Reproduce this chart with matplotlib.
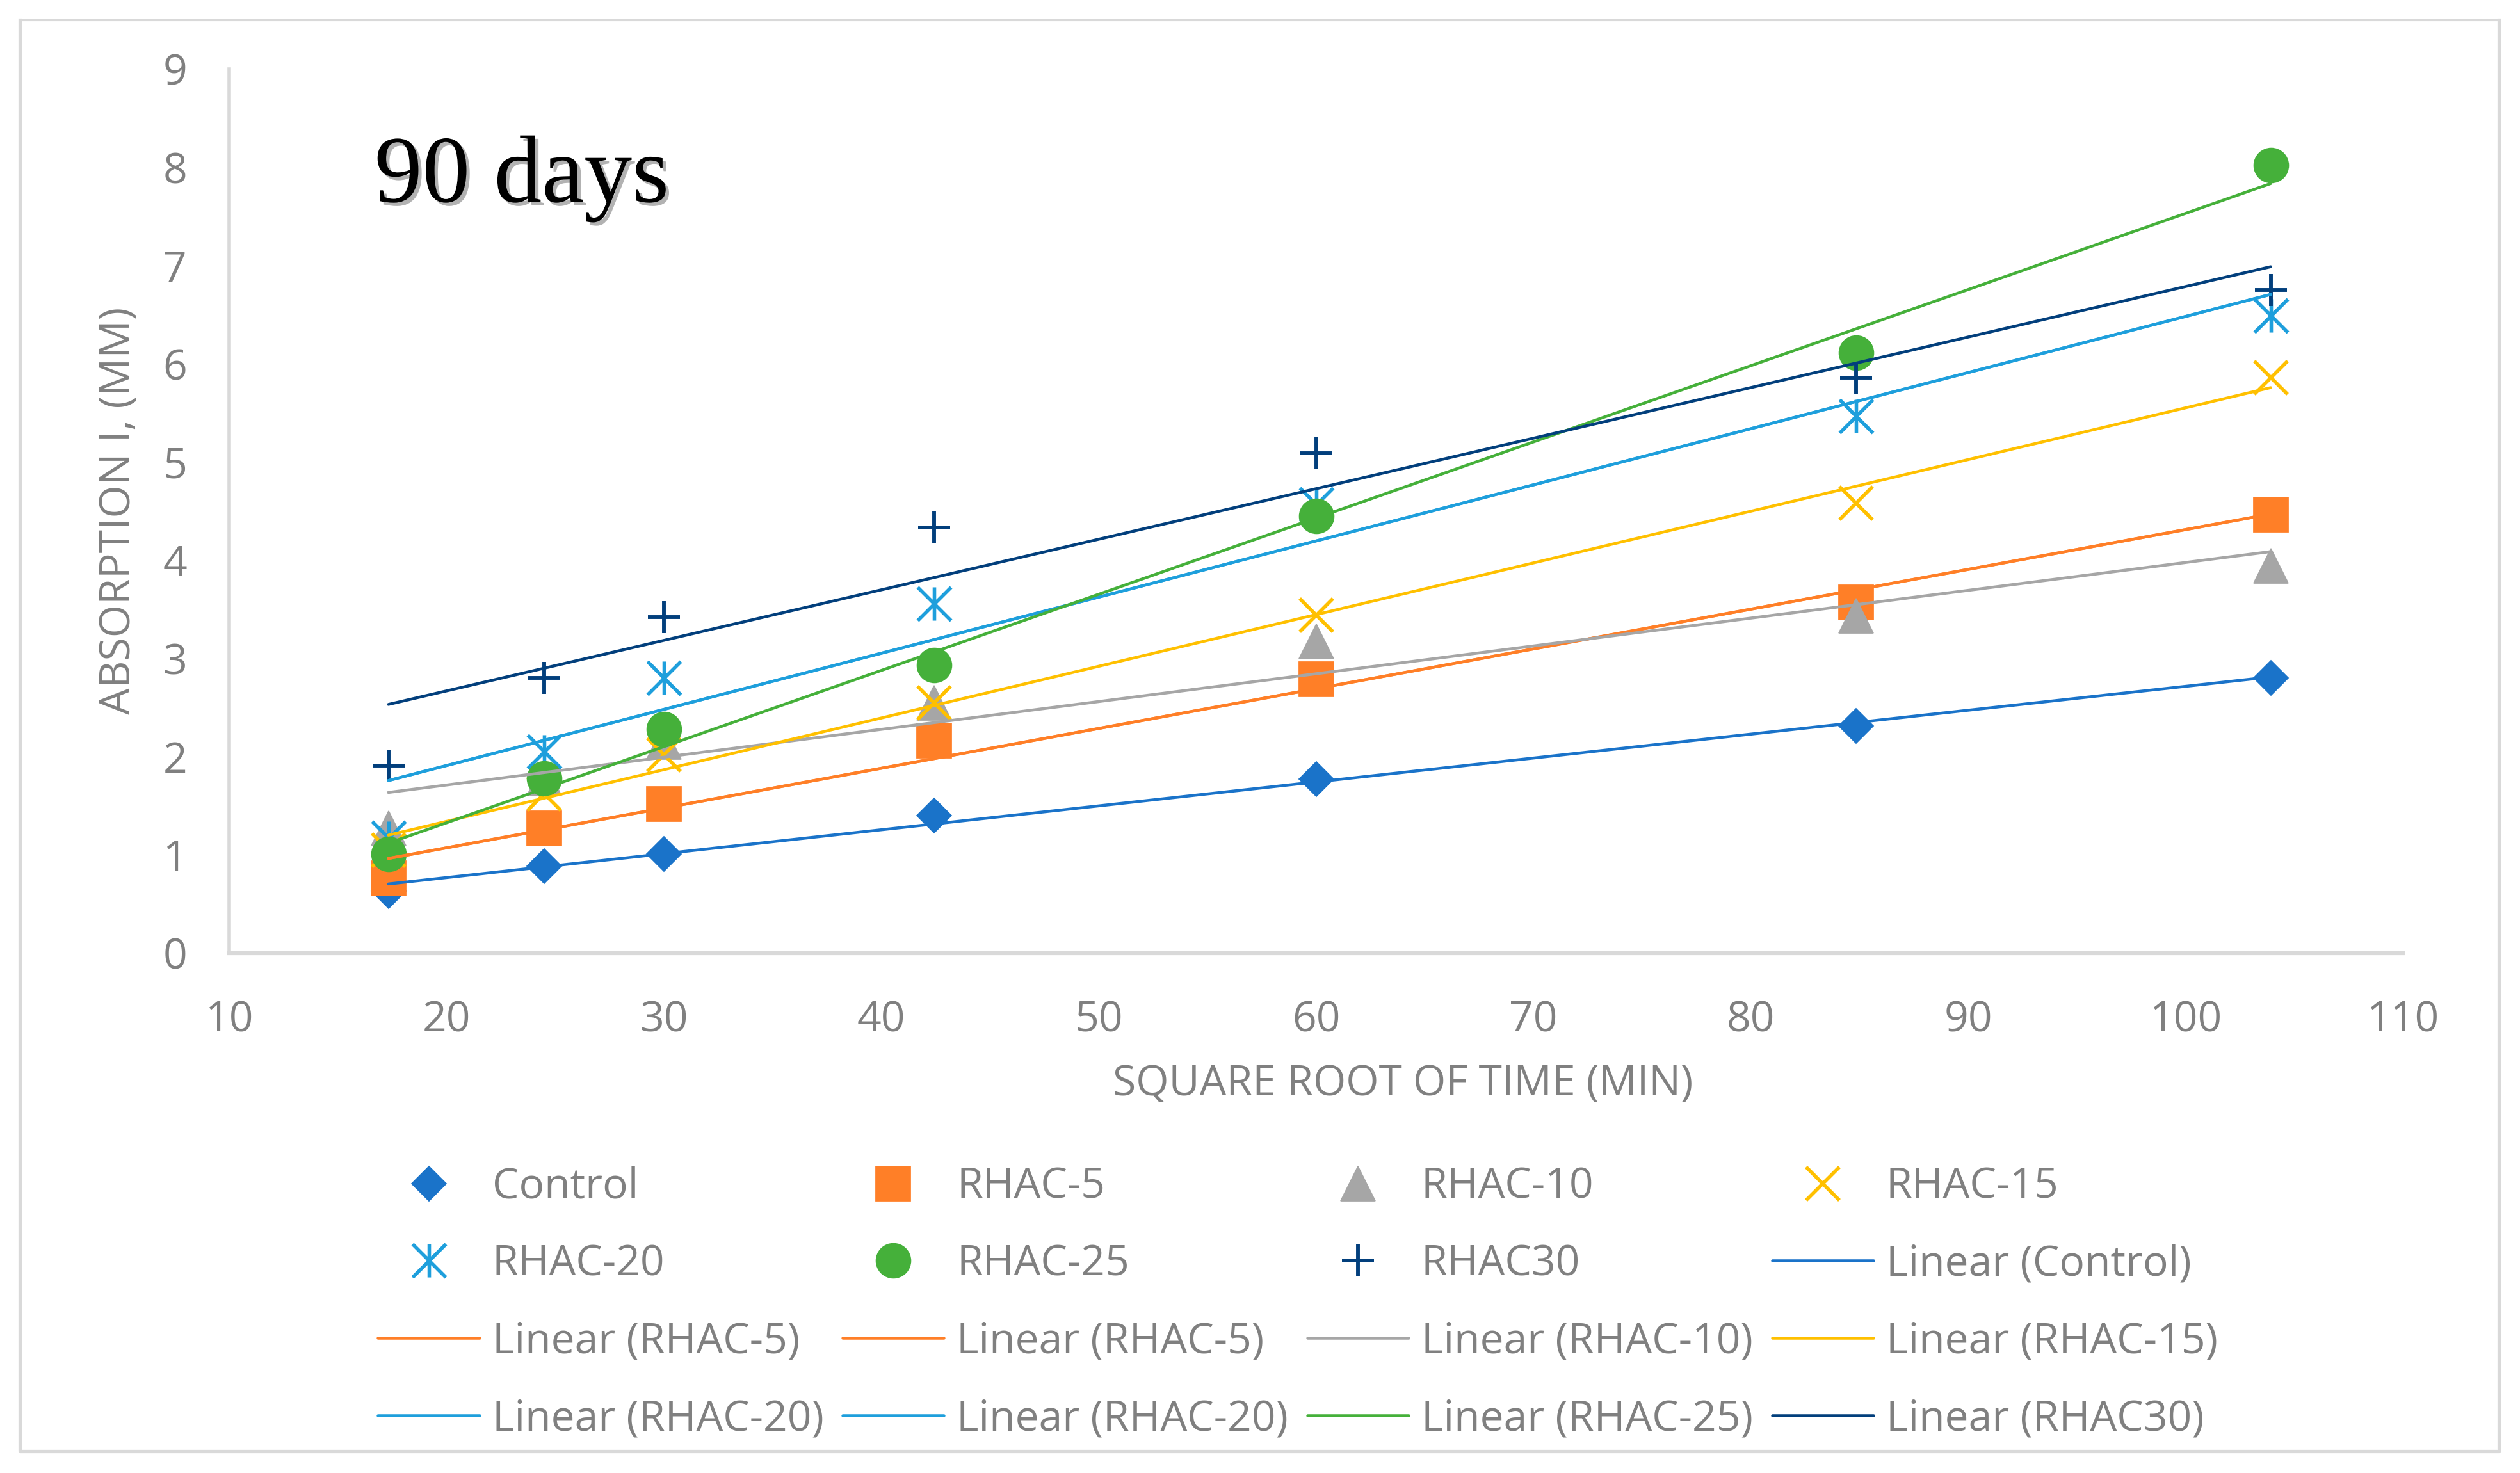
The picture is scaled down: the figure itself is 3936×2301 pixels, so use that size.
import numpy as np
import matplotlib
matplotlib.use("Agg")
import matplotlib.pyplot as plt
import matplotlib.patheffects as pe
from matplotlib.lines import Line2D
from matplotlib.path import Path

plt.rcParams['font.family'] = ['Open Sans', 'DejaVu Sans']

# square root of time (min) and absorption (mm)
sqrt_time = [17.32, 24.49, 30.0, 42.43, 60.0, 84.85, 103.92]
series_names = ['Control', 'RHAC-5', 'RHAC-10', 'RHAC-15', 'RHAC-20', 'RHAC-25', 'RHAC30']
control = [0.63, 0.885, 1.01, 1.40, 1.77, 2.31, 2.80]
rhac5 = [0.76, 1.27, 1.52, 2.16, 2.79, 3.57, 4.46]
rhac10 = [1.27, 1.78, 2.15, 2.55, 3.17, 3.43, 3.94]
rhac15 = [1.05, 1.62, 2.02, 2.55, 3.44, 4.58, 5.86]
rhac20 = [1.17, 2.05, 2.80, 3.56, 4.57, 5.47, 6.49]
rhac25 = [1.01, 1.78, 2.28, 2.93, 4.45, 6.11, 8.02]
rhac30 = [1.91, 2.80, 3.42, 4.33, 5.09, 5.86, 6.75]
series_values = [control, rhac5, rhac10, rhac15, rhac20, rhac25, rhac30]
# trendlines as in the workbook (two of them are doubled)
trend_names = ['Control', 'RHAC-5', 'RHAC-5', 'RHAC-10', 'RHAC-15',
               'RHAC-20', 'RHAC-20', 'RHAC-25', 'RHAC30']

x_ticks = list(range(10, 111, 10))
y_ticks = list(range(0, 10))

colors = {
    'Control': '#1a73c9',
    'RHAC-5': '#ff7f27',
    'RHAC-10': '#a6a6a6',
    'RHAC-15': '#ffc000',
    'RHAC-20': '#1e9fdc',
    'RHAC-25': '#45b03a',
    'RHAC30': '#023f7c',
}

star = Path([(-1, -1), (1, 1), (-1, 1), (1, -1), (0, -1), (0, 1)],
            [Path.MOVETO, Path.LINETO] * 3)
markers = {
    'Control': dict(marker='D', ms=11.2, mew=0.5),
    'RHAC-5': dict(marker='s', ms=15.5, mew=0.5),
    'RHAC-10': dict(marker='^', ms=15.5, mew=0.5),
    'RHAC-15': dict(marker='x', ms=15, mew=1.6),
    'RHAC-20': dict(marker=star, ms=15, mew=1.6, mfc='none'),
    'RHAC-25': dict(marker='o', ms=15.5, mew=0.5),
    'RHAC30': dict(marker='+', ms=14.5, mew=1.7),
}

grey = '#808080'
frame = '#d9d9d9'
fs = 19

fig = plt.figure(figsize=(15.744, 9.204), dpi=250)
ax = fig.add_axes([0.0910, 0.3530, 0.8625, 0.6001])

handles = []
for name, vals in zip(series_names, series_values):
    c = colors[name]
    h, = ax.plot(sqrt_time, vals, linestyle='none', color=c, mec=c, zorder=3,
                 **markers[name])
    handles.append(h)

lookup = dict(zip(series_names, series_values))
for name in trend_names:
    vals = lookup[name]
    k, b = np.polyfit(sqrt_time, vals, 1)
    xx = np.array([min(sqrt_time), max(sqrt_time)])
    h, = ax.plot(xx, k * xx + b, color=colors[name], lw=1.3, zorder=4,
                 solid_capstyle='round')
    handles.append(h)

labels = series_names + ['Linear (%s)' % n for n in trend_names]

ax.set_xlim(10, 110)
ax.set_ylim(0, 9)
ax.set_xticks(x_ticks)
ax.set_yticks(y_ticks)
ax.tick_params(length=0, labelsize=fs, colors=grey)
ax.tick_params(axis='x', pad=21)
ax.tick_params(axis='y', pad=19)
for side in ['top', 'right']:
    ax.spines[side].set_visible(False)
ax.spines['left'].set_color(frame)
ax.spines['left'].set_linewidth(1.6)
ax.spines['bottom'].set_color(frame)
ax.spines['bottom'].set_linewidth(1.8)

ax.set_xlabel('SQUARE ROOT OF TIME (MIN)', fontsize=fs, color=grey, va='center')
ax.xaxis.set_label_coords(0.540, -0.149)
ax.set_ylabel('ABSORPTION I, (MM)', fontsize=fs, color=grey, va='center')
ax.yaxis.set_label_coords(-0.0507, 0.5)

fig.text(0.1486, 0.863, '90 days', fontsize=43, family='Liberation Serif',
         color='black', va='baseline',
         path_effects=[pe.withSimplePatchShadow(offset=(1.5, -1.5),
                                                shadow_rgbFace='#7f7f7f',
                                                alpha=0.6)])

# matplotlib fills legend columns first, reorder so it reads by rows
ncol = 4
order = [r * ncol + c for c in range(ncol) for r in range(len(handles) // ncol)]
leg = fig.legend([handles[i] for i in order], [labels[i] for i in order],
                 ncol=ncol, loc='center', bbox_to_anchor=(0.515, 0.1152),
                 frameon=False, fontsize=fs, numpoints=1,
                 handlelength=2.4, handletextpad=0.3, columnspacing=0.45,
                 labelspacing=0.83, borderpad=0)
for t in leg.get_texts():
    t.set_color(grey)

# chart area border, a little heavier on the left, right and bottom
x0, x1, y0, y1 = 0.0079, 0.9916, 0.0148, 0.9865
fig.add_artist(Line2D([x0, x1], [y1, y1], transform=fig.transFigure,
                      color=frame, lw=0.9))
fig.add_artist(Line2D([x0, x0, x1, x1], [y1, y0, y0, y1],
                      transform=fig.transFigure, color=frame, lw=1.5))

fig.savefig('out.png', dpi=250, facecolor='white')
